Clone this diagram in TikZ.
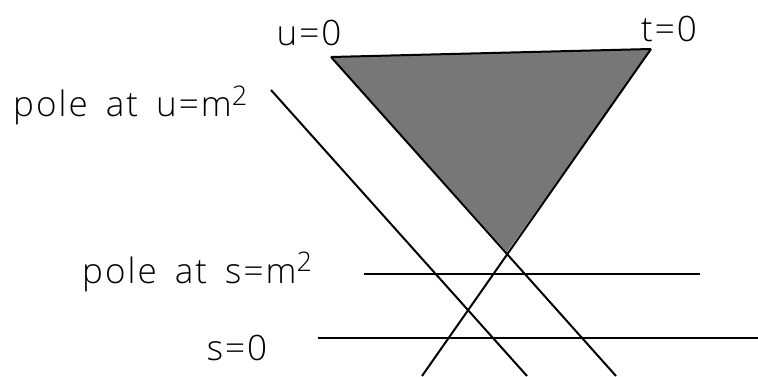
\documentclass[tikz,border=0pt]{standalone}
\usepackage{fontspec}
\setmainfont{Open Sans}
\newfontfamily\handfont[LetterSpace=6,WordSpace=1.6]{Open Sans Light}
\newcommand{\bigsq}{\raisebox{0.32em}{\fontsize{27}{27}\selectfont 2}}
\begin{document}
\begin{tikzpicture}[x=1pt,y=-1pt,
  lbl/.style={inner sep=0pt, font=\handfont\fontsize{35}{37}\selectfont},
  ln/.style={line width=2pt, black}]
\useasboundingbox (0,0) rectangle (758,377);
% triangle
\coordinate (A) at (331,57);
\coordinate (B) at (651,49);
\coordinate (C) at (507,252);
\fill[fill={rgb,255:red,119;green,119;blue,119}] (A) -- (B) -- (C) -- cycle;
\coordinate (Uend) at (616,376);
\coordinate (Tend) at (422,376);
\draw[ln] (A) -- (B);
\draw[ln] (A) -- (Uend);
\draw[ln] (B) -- (Tend);
% pole u=m^2
\coordinate (P1) at (271,90);
\coordinate (P2) at (527,376);
\draw[ln] (P1) -- (P2);
% pole s=m^2
\coordinate (S1) at (364,274);
\coordinate (S2) at (700,274);
\draw[ln] (S1) -- (S2);
% s=0
\coordinate (Z1) at (318,338);
\coordinate (Z2) at (758,338);
\draw[ln] (Z1) -- (Z2);
% labels
\node[lbl, anchor=center] (lu) at (309,33) {u=0};
\node[lbl, anchor=center] (lt) at (669,29) {t=0};
\node[lbl, anchor=base west] (lpu) at (13,117) {pole at u=m\bigsq};
\node[lbl, anchor=base west] (lps) at (82,283) {pole at s=m\bigsq};
\node[lbl, anchor=center] (ls) at (237,348) {s=0};
\end{tikzpicture}
\end{document}
